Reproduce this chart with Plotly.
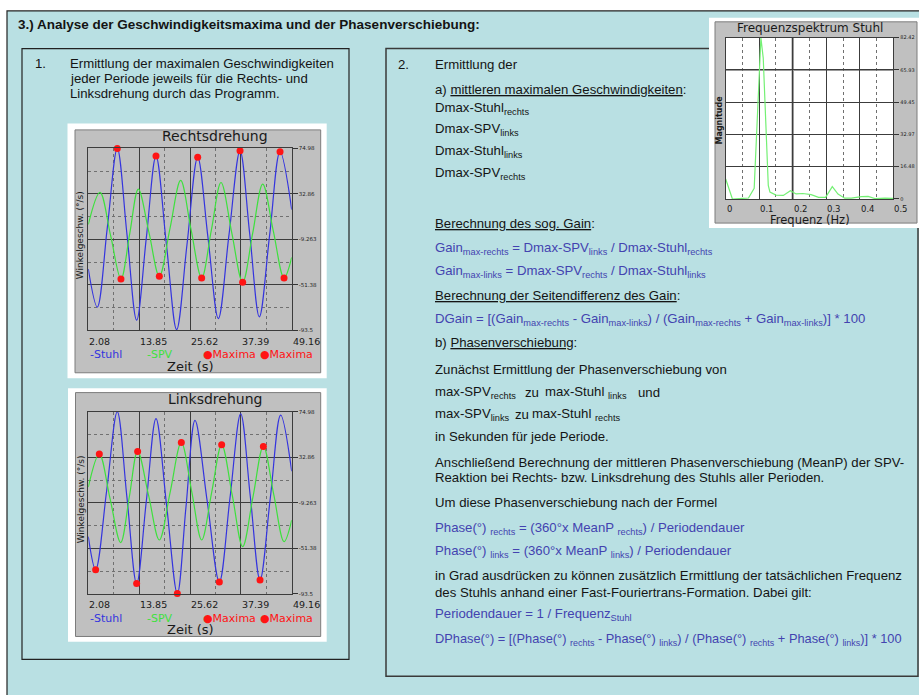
import plotly.graph_objects as go

W, H = 919, 695


def fx(p):
    return p / W


def fy(p):
    return 1 - p / H


# ---------------- data ----------------
time_ticks = [2.08, 13.85, 25.62, 37.39, 49.16]
time_tick_labels = ["2.08", "13.85", "25.62", "37.39", "49.16"]
vel_ticks = [74.98, 32.86, -9.263, -51.38, -93.5]
vel_tick_labels = ["74.98", "32.86", "-9.263", "-51.38", "-93.5"]

# Rechtsdrehung
r_stuhl_t = [2.08, 4.16, 6.48, 8.79, 11.03, 13.27, 15.51, 17.75, 20.14, 22.53, 24.93,
             27.40, 29.79, 32.18, 34.65, 37.20, 39.44, 41.67, 44.07, 46.46, 49.16]
r_stuhl_v = [-36.8, -72.1, 1.5, 74.98, -4.7, -84.3, -8.0, 67.9, -13.2, -93.0, -13.9,
             66.7, -8.0, -82.8, -5.0, 72.8, -4.2, -81.2, -4.7, 71.9, 18.3]
r_spv_t = [2.08, 4.78, 7.25, 9.64, 11.65, 13.66, 16.13, 18.52, 20.99, 23.46, 25.85,
           28.32, 30.56, 32.80, 35.27, 37.81, 40.13, 42.45, 44.91, 47.39, 49.16]
r_spv_v = [4.5, 34.2, -5.9, -46.0, -4.4, 37.3, -3.1, -43.6, 0.9, 45.3, 0.1,
           -45.1, -0.8, 43.4, -2.8, -49.1, -3.6, 41.9, -1.6, -45.1, -26.1]
r_max_stuhl_t = [8.79, 17.75, 27.40, 37.20, 46.46]
r_max_stuhl_v = [74.98, 67.9, 66.7, 72.8, 71.9]
r_max_spv_t = [9.64, 18.52, 28.32, 37.81, 47.39]
r_max_spv_v = [-46.0, -43.6, -45.1, -49.1, -45.1]

# Linksdrehung
l_stuhl_t = [2.08, 3.78, 6.33, 8.79, 11.03, 13.27, 15.51, 17.75, 20.22, 22.69, 24.69,
             26.78, 29.60, 32.41, 34.88, 37.35, 39.59, 41.83, 44.22, 46.61, 49.16]
l_stuhl_v = [-40.6, -71.2, 1.9, 74.98, -4.5, -84.0, -7.7, 68.6, -12.3, -93.2, -13.1,
             67.0, -7.7, -82.5, -4.6, 73.1, -3.8, -80.7, -4.4, 71.9, 19.9]
l_spv_t = [2.08, 4.63, 7.10, 9.57, 11.57, 13.50, 16.05, 18.52, 21.07, 23.61, 26.01,
           28.32, 30.64, 32.95, 35.42, 37.81, 40.21, 42.60, 44.99, 47.39, 49.16]
l_spv_v = [5.3, 35.8, -5.1, -46.1, -3.9, 38.3, -2.7, -43.7, 1.4, 46.5, 1.4,
           -43.7, 0.4, 44.4, -2.7, -49.8, -3.5, 42.9, -1.2, -45.2, -25.3]
l_max_stuhl_t = [3.78, 13.27, 22.69, 32.41, 41.83]
l_max_stuhl_v = [-71.2, -84.0, -93.2, -82.5, -80.7]
l_max_spv_t = [4.63, 13.50, 23.61, 32.95, 42.60]
l_max_spv_v = [35.8, 38.3, 46.5, 44.4, 42.9]

# Frequenzspektrum
freq_hz = [0, 0.02, 0.05, 0.068, 0.085, 0.094, 0.1, 0.105, 0.112, 0.119, 0.127, 0.132,
           0.15, 0.172, 0.193, 0.21, 0.23, 0.255, 0.277, 0.298, 0.318, 0.335, 0.355,
           0.375, 0.405, 0.425, 0.445, 0.475, 0.5]
freq_mag = [10.2, 0, 0.3, 0.5, 5.5, 44.0, 68.0, 82.42, 72.0, 44.0, 7.0, 3.5,
            2.0, 1.8, 4.2, 2.6, 2.8, 2.2, 0.8, 0.8, 6.3, 2.5, 0.4,
            0.4, 1.2, 1.3, 0.2, 0.4, 0.3]
freq_ticks = [0, 0.1, 0.2, 0.3, 0.4, 0.5]
freq_tick_labels = ["0", "0.1", "0.2", "0.3", "0.4", "0.5"]
mag_ticks = [0, 16.48, 32.97, 49.45, 65.93, 82.42]
mag_tick_labels = ["0", "16.48", "32.97", "49.45", "65.93", "82.42"]

# ---------------- styles ----------------
BG = "#B9E0E3"
PANEL_GRAY = "#C0C0C0"
BLUE = "#3434DE"
GREEN = "#3EE03E"
RED = "#FF1414"
FORM = "#4343B0"
TXT = "#141414"
BODY = "Liberation Sans, Arial, sans-serif"
CHART = "DejaVu Sans, Verdana, sans-serif"
GRID = "#3c3c3c"
MINOR = "#707070"
FS = 13.2

fig = go.Figure()


def mids(v):
    return [(a + b) / 2 for a, b in zip(v[:-1], v[1:])]


def add_lines(xa, ya, t1, v1, t2, v2, mt1, mv1, mt2, mv2):
    fig.add_trace(go.Scatter(x=t1, y=v1, mode="lines", xaxis=xa, yaxis=ya,
                             line=dict(color=BLUE, width=1.2, shape="spline", smoothing=1),
                             showlegend=False, hoverinfo="skip"))
    fig.add_trace(go.Scatter(x=t2, y=v2, mode="lines", xaxis=xa, yaxis=ya,
                             line=dict(color=GREEN, width=1.2, shape="spline", smoothing=1),
                             showlegend=False, hoverinfo="skip"))
    fig.add_trace(go.Scatter(x=mt1, y=mv1, mode="markers", xaxis=xa, yaxis=ya,
                             marker=dict(color=RED, size=7), cliponaxis=False,
                             showlegend=False, hoverinfo="skip"))
    fig.add_trace(go.Scatter(x=mt2, y=mv2, mode="markers", xaxis=xa, yaxis=ya,
                             marker=dict(color=RED, size=7), cliponaxis=False,
                             showlegend=False, hoverinfo="skip"))


add_lines("x", "y", r_stuhl_t, r_stuhl_v, r_spv_t, r_spv_v,
          r_max_stuhl_t, r_max_stuhl_v, r_max_spv_t, r_max_spv_v)
add_lines("x2", "y2", l_stuhl_t, l_stuhl_v, l_spv_t, l_spv_v,
          l_max_stuhl_t, l_max_stuhl_v, l_max_spv_t, l_max_spv_v)
fig.add_trace(go.Scatter(x=freq_hz, y=freq_mag, mode="lines", xaxis="x3", yaxis="y3",
                         line=dict(color="#74F074", width=1.2),
                         showlegend=False, hoverinfo="skip"))


def time_axis(dom, anchor):
    return dict(domain=dom, anchor=anchor, range=[time_ticks[0], time_ticks[-1]],
                tickvals=time_ticks, showticklabels=False, ticks="",
                showgrid=True, gridcolor=GRID, gridwidth=1, zeroline=False,
                showline=True, mirror=True, linecolor=GRID, linewidth=1,
                minor=dict(tickvals=mids(time_ticks), showgrid=True, gridcolor=MINOR,
                           griddash="dot", gridwidth=1, ticks=""))


def vel_axis(dom, anchor):
    return dict(domain=dom, anchor=anchor, range=[vel_ticks[-1], vel_ticks[0]],
                tickvals=vel_ticks, ticktext=vel_tick_labels, side="right",
                ticks="outside", ticklen=5, tickcolor="#333", tickwidth=1,
                tickfont=dict(size=5.5, color="#222", family=CHART),
                showgrid=True, gridcolor=GRID, gridwidth=1, zeroline=False,
                showline=True, mirror=True, linecolor=GRID, linewidth=1,
                minor=dict(tickvals=mids(vel_ticks), showgrid=True, gridcolor=MINOR,
                           griddash="dot", gridwidth=1, ticks=""))


R_X = [fx(88.3), fx(291.7)]
R_Y = [fy(330), fy(146.7)]
L_X = [fx(88.3), fx(291.7)]
L_Y = [fy(596), fy(412.3)]
F_X = [fx(725.7), fx(893.3)]
F_Y = [fy(197.7), fy(35)]

fig.update_layout(
    width=W, height=H, margin=dict(l=0, r=0, t=0, b=0),
    paper_bgcolor="white", plot_bgcolor="rgba(0,0,0,0)",
    xaxis=time_axis(R_X, "y"), yaxis=vel_axis(R_Y, "x"),
    xaxis2=time_axis(L_X, "y2"), yaxis2=vel_axis(L_Y, "x2"),
    xaxis3=dict(domain=F_X, anchor="y3", range=[0, 0.5], tickvals=freq_ticks,
                showticklabels=False, ticks="", showgrid=True, gridcolor=GRID,
                gridwidth=1, zeroline=False, showline=True, mirror=True,
                linecolor=GRID, linewidth=1,
                minor=dict(tickvals=mids(freq_ticks), showgrid=True, gridcolor=MINOR,
                           griddash="dot", gridwidth=1, ticks="")),
    yaxis3=dict(domain=F_Y, anchor="x3", range=[0, mag_ticks[-1]], tickvals=mag_ticks,
                ticktext=mag_tick_labels, side="right", ticks="outside", ticklen=5,
                tickcolor="#333", tickwidth=1,
                tickfont=dict(size=5, color="#222", family=CHART),
                showgrid=True, gridcolor=GRID, gridwidth=1, zeroline=False,
                showline=True, mirror=True, linecolor=GRID, linewidth=1),
)

# ---------------- boxes ----------------
shapes = []


def rect(x0, y0, x1, y1, fill=None, line=None, width=1):
    shapes.append(dict(type="rect", xref="paper", yref="paper", layer="below",
                       x0=fx(x0), x1=fx(x1), y0=fy(y1), y1=fy(y0),
                       fillcolor=fill if fill else "rgba(0,0,0,0)",
                       line=dict(color=line if line else "rgba(0,0,0,0)", width=width)))


rect(7, 8, 935, 710, fill=BG, line="#222", width=1.2)
rect(22, 46, 349, 662, line="#222", width=1.2)
rect(386, 46, 918, 679, line="#3a3a3a", width=1.5)
# chart frames
rect(67.5, 121.5, 326.7, 378.5, fill="white")
rect(75, 128, 320.7, 373, fill=PANEL_GRAY, line="#7c7c7c", width=1)
rect(68, 388.5, 326.7, 644.3, fill="white")
rect(75.5, 393, 320.7, 639, fill=PANEL_GRAY, line="#7c7c7c", width=1)
rect(709, 15, 919, 227, fill="white")
rect(715, 19, 917, 222, fill=PANEL_GRAY, line="#7c7c7c", width=1)
shapes.append(dict(type="rect", xref="x3 domain", yref="y3 domain", layer="below",
                   x0=0, x1=1, y0=0, y1=1, fillcolor="white", line=dict(width=0)))
# highlighted grid lines of the spectrum window
shapes.append(dict(type="line", xref="x3", yref="y3 domain", layer="below",
                   x0=freq_ticks[2], x1=freq_ticks[2], y0=0, y1=1,
                   line=dict(color="#9a9a9a", width=2.5)))
shapes.append(dict(type="line", xref="x3 domain", yref="y3", layer="below",
                   x0=0, x1=1, y0=mag_ticks[4], y1=mag_ticks[4],
                   line=dict(color="#9a9a9a", width=2)))
fig.update_layout(shapes=shapes)


# ---------------- text ----------------
def txt(x, y, s, size=FS, color=TXT, family=BODY, anchor="left", angle=0):
    fig.add_annotation(x=fx(x), y=fy(y), xref="paper", yref="paper", text=s,
                       showarrow=False, xanchor=anchor, yanchor="middle",
                       textangle=angle, borderpad=0,
                       font=dict(size=size, color=color, family=family))


txt(17, 22, "<b>3.) Analyse der Geschwindigkeitsmaxima und der Phasenverschiebung:</b>", size=13.5)

# left panel
txt(34, 61, "1.")
txt(68.5, 61, "Ermittlung der maximalen Geschwindigkeiten")
txt(68.5, 76, "jeder Periode jeweils für die Rechts- und")
txt(68.5, 91, "Linksdrehung durch das Programm.")


def chart_text(xa, title, title_y, ytitle_y, label_y, legend_y, zeit_y):
    txt(215, title_y, title, size=14, color="#1a1a1a", family=CHART, anchor="center")
    txt(80.7, ytitle_y, "Winkelgeschw. (°/s)", size=9, color="#1a1a1a", family=CHART,
        anchor="center", angle=-90)
    for t, lab in zip(time_ticks, time_tick_labels):
        fig.add_annotation(x=t, xref=xa, y=fy(label_y), yref="paper", text=lab,
                           showarrow=False, xanchor="left", yanchor="middle", borderpad=0,
                           font=dict(size=9.5, color="#1a1a1a", family=CHART))
    txt(89, legend_y, "-Stuhl", size=11, color=BLUE, family=CHART)
    txt(145.5, legend_y, "-SPV", size=11, color=GREEN, family=CHART)
    txt(202, legend_y, "●Maxima", size=11, color=RED, family=CHART)
    txt(258.5, legend_y, "●Maxima", size=11, color=RED, family=CHART)
    txt(190.5, zeit_y, "Zeit (s)", size=13, color="#1a1a1a", family=CHART, anchor="center")


chart_text("x", "Rechtsdrehung", 134.3, 234.5, 341.7, 354.3, 366.7)
chart_text("x2", "Linksdrehung", 399, 501, 606.7, 620.7, 632.3)

# spectrum window text
txt(810, 25, "Frequenzspektrum Stuhl", size=12, color="#1a1a1a", family=CHART, anchor="center")
txt(719, 118.5, "<b>Magnitude</b>", size=8, color="#1a1a1a", family=CHART, anchor="center", angle=-90)
for f, lab in zip(freq_ticks, freq_tick_labels):
    fig.add_annotation(x=f, xref="x3", y=fy(208), yref="paper", text=lab,
                       showarrow=False, xanchor="left", yanchor="middle", borderpad=0,
                       font=dict(size=8.5, color="#1a1a1a", family=CHART))
txt(810, 219, "Frequenz (Hz)", size=11.5, color="#1a1a1a", family=CHART, anchor="center")

# right panel
X0 = 434
txt(397, 62, "2.")
txt(X0, 62, "Ermittlung der")
txt(X0, 87, "a) <u>mittleren maximalen Geschwindigkeiten</u>:")
txt(X0, 106, "Dmax-Stuhl<sub>rechts</sub>")
txt(X0, 127.5, "Dmax-SPV<sub>links</sub>")
txt(X0, 149.5, "Dmax-Stuhl<sub>links</sub>")
txt(X0, 171.5, "Dmax-SPV<sub>rechts</sub>")

txt(X0, 222.3, "<u>Berechnung des sog. Gain</u>:")
txt(X0, 248, "Gain<sub>max-rechts</sub> = Dmax-SPV<sub>links</sub> / Dmax-Stuhl<sub>rechts</sub>", color=FORM)
txt(X0, 271, "Gain<sub>max-links</sub> = Dmax-SPV<sub>rechts</sub> / Dmax-Stuhl<sub>links</sub>", color=FORM)
txt(X0, 295, "<u>Berechnung der Seitendifferenz des Gain</u>:")
txt(X0, 319.5, "DGain = [(Gain<sub>max-rechts</sub> - Gain<sub>max-links</sub>) / "
        "(Gain<sub>max-rechts</sub> + Gain<sub>max-links</sub>)] * 100", color=FORM)
txt(X0, 342.7, "b) <u>Phasenverschiebung</u>:")

txt(X0, 370, "Zunächst Ermittlung der Phasenverschiebung von")
txt(X0, 393, "max-SPV<sub>rechts</sub>")
txt(524, 392.7, "zu")
txt(544, 393, "max-Stuhl <sub>links</sub>")
txt(637, 392.7, "und")
txt(X0, 415.3, "max-SPV<sub>links</sub>")
txt(514, 415, "zu")
txt(531, 415.3, "max-Stuhl <sub>rechts</sub>")
txt(X0, 437.3, "in Sekunden für jede Periode.")
txt(X0, 463.3, "Anschließend Berechnung der mittleren Phasenverschiebung (MeanP) der SPV-")
txt(X0, 478.3, "Reaktion bei Rechts- bzw. Linksdrehung des Stuhls aller Perioden.")
txt(X0, 504, "Um diese Phasenverschiebung nach der Formel")
txt(X0, 530.3, "Phase(°) <sub>rechts</sub> = (360°x MeanP <sub>rechts</sub>) / Periodendauer", color=FORM)
txt(X0, 553.5, "Phase(°) <sub>links</sub> = (360°x MeanP <sub>links</sub>) / Periodendauer", color=FORM)
txt(X0, 577.7, "in Grad ausdrücken zu können zusätzlich Ermittlung der tatsächlichen Frequenz")
txt(X0, 594.3, "des Stuhls anhand einer Fast-Fouriertrans-Formation. Dabei gilt:")
txt(X0, 617, "Periodendauer = 1 / Frequenz<sub>Stuhl</sub>", color=FORM)
txt(X0, 642, "DPhase(°) = [(Phase(°) <sub>rechts</sub> - Phase(°) <sub>links</sub>) / "
        "(Phase(°) <sub>rechts</sub> + Phase(°) <sub>links</sub>)] * 100", color=FORM, size=12.8)

fig.write_html("out.html", config={"displayModeBar": False},
               post_script="document.body.style.margin='0';document.body.style.overflow='hidden';")
